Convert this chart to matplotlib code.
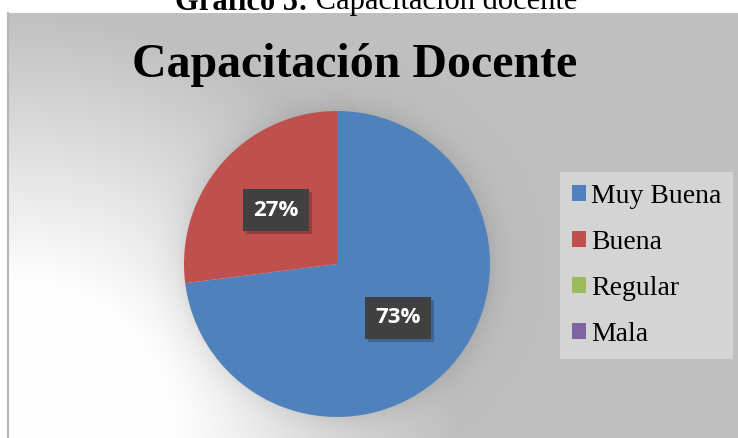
import numpy as np
import matplotlib
matplotlib.use("Agg")
import matplotlib.pyplot as plt
import matplotlib.transforms as mtransforms
from matplotlib import font_manager

categories = ["Muy Buena", "Buena", "Regular", "Mala"]
values = [73, 27, 0, 0]
colors = ["#4f81bd", "#c0504d", "#9bbb59", "#8064a2"]
caption_bold = "Gráfico 5:"
caption_rest = " Capacitación docente"
title = "Capacitación Docente"

W, H = 738, 438
fig = plt.figure(figsize=(W / 100, H / 100), dpi=100)
fig.patch.set_facecolor("white")

# chart area background (pixel box)
x0, y0 = 8, 13
bw, bh = W - x0, H - y0
bg = fig.add_axes([x0 / W, 0, bw / W, bh / H])
xs = np.arange(bw) + x0
ys = np.arange(bh) + y0
X, Y = np.meshgrid(xs, ys)
d = np.hypot((X - 8) * 0.95, Y - 438)
t = np.clip((d - 155) / 270, 0, 1)
val = 1.0 - (1.0 - 0.75) * t
# soft shadow around the pie
cx, cy, R = 337, 264, 153
dp = np.hypot(X - cx, Y - cy)
val = val - 0.07 * np.exp(-np.clip(dp - R, 0, None) / 14.0) * (dp > R - 3)
img = np.dstack([val, val, val])
bg.imshow(img, extent=[0, 1, 0, 1], aspect="auto", interpolation="bilinear")
bg.set_axis_off()
# left border line
fig.add_artist(plt.Line2D([x0 / W, x0 / W], [0, 1 - y0 / H], transform=fig.transFigure,
                          color="#b5b5b5", lw=1.5))

# pie axes
ax = fig.add_axes([(cx - R) / W, (H - cy - R) / H, 2 * R / W, 2 * R / H])
ax.set_facecolor("none")

def fmt(p):
    return f"{p:.0f}%" if p > 0.5 else ""

lab_font = dict(fontsize=16, fontweight="bold", family=["Open Sans", "DejaVu Sans"])
wedges, texts, autotexts = ax.pie(values, colors=colors, startangle=90, counterclock=False,
                                  autopct=fmt, pctdistance=0.53, radius=1.0,
                                  wedgeprops=dict(linewidth=0),
                                  textprops=dict(color="white", **lab_font))
ax.set_xlim(-1, 1)
ax.set_ylim(-1, 1)
ax.set_aspect("equal")
ax.set_axis_off()

for at in autotexts:
    if at.get_text():
        at.set_bbox(dict(boxstyle="square,pad=0.47", fc="#404040", ec="none"))
        at.set_zorder(5)
        off = mtransforms.offset_copy(at.get_transform(), fig=fig, x=3, y=-3, units="dots")
        ax.text(*at.get_position(), at.get_text(), transform=off, ha="center", va="center",
                color="none", zorder=4,
                bbox=dict(boxstyle="square,pad=0.47", fc="black", alpha=0.22, ec="none"),
                **lab_font)

# title
fig.text(355 / W, 1 - 65 / H, title, ha="center", va="center", fontsize=34.5,
         fontweight="bold", family="Liberation Serif")

# caption (partially cut at top)
c1 = fig.text(175 / W, 1 - 9.5 / H, caption_bold, ha="left", va="baseline", fontsize=22,
              fontweight="bold", family="Liberation Serif")
ax.annotate(caption_rest, xy=(1, 0), xycoords=c1, va="bottom", ha="left", fontsize=22,
            family="Liberation Serif", annotation_clip=False)

# legend
leg = fig.legend(wedges, categories, loc="upper left",
                 bbox_to_anchor=(560 / W, 1 - 172 / H), frameon=True, fancybox=False,
                 prop=font_manager.FontProperties(family="Liberation Serif", size=20),
                 handlelength=0.5, handleheight=0.5, handletextpad=0.2, labelspacing=0.76,
                 borderpad=0.42, borderaxespad=0)
leg.get_frame().set_facecolor("#d4d4d4")
leg.get_frame().set_edgecolor("none")
leg.get_frame().set_alpha(1)

fig.savefig("out.png", dpi=100)
